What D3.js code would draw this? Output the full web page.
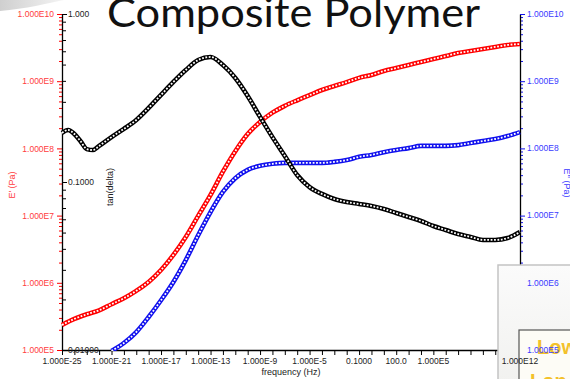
<!DOCTYPE html>
<html>
<head>
<meta charset="utf-8">
<title>Composite Polymer</title>
<script src="https://d3js.org/d3.v7.min.js"></script>
<style>
  body { margin: 0; background: #fff; }
  svg { display: block; font-family: "Liberation Sans", Arial, sans-serif; }
  .tick text { font-size: 8.5px; }
</style>
</head>
<body>
<svg width="570" height="379"></svg>
<script>
// frequency grid (Hz), one point per decade
const freq = [1e-25, 1e-24, 1e-23, 1e-22, 1e-21, 1e-20, 1e-19, 1e-18, 1e-17, 1e-16,
  1e-15, 1e-14, 1e-13, 1e-12, 1e-11, 1e-10, 1e-9, 1e-8, 1e-7, 1e-6, 1e-5, 1e-4,
  1e-3, 1e-2, 1e-1, 1, 10, 100, 1e3, 1e4, 1e5, 1e6, 1e7, 1e8, 1e9, 1e10, 1e11, 1e12];

// E' (Pa)
const storageMod = [2.36e5, 2.9e5, 3.4e5, 3.9e5, 4.8e5, 5.9e5, 7.6e5, 1.03e6, 1.55e6, 2.6e6,
  4.8e6, 9.9e6, 2.03e7, 4.5e7, 9.1e7, 1.64e8, 2.47e8, 3.4e8, 4.3e8, 5.2e8, 6.2e8, 7.4e8,
  8.5e8, 9.7e8, 1.12e9, 1.24e9, 1.42e9, 1.57e9, 1.74e9, 1.93e9, 2.14e9, 2.37e9, 2.63e9,
  2.81e9, 3.01e9, 3.23e9, 3.46e9, 3.58e9];

// E'' (Pa)
const lossMod = [null, null, null, null, 9.7e4, 1.27e5, 1.85e5, 3.1e5, 5.5e5, 1.03e6,
  2.18e6, 5.1e6, 1.13e7, 2.25e7, 3.6e7, 4.8e7, 5.5e7, 5.9e7, 6.1e7, 6.1e7, 6.1e7, 6.1e7,
  6.3e7, 6.7e7, 7.5e7, 8.0e7, 8.8e7, 9.5e7, 1.01e8, 1.09e8, 1.09e8, 1.09e8, 1.12e8,
  1.20e8, 1.29e8, 1.38e8, 1.53e8, 1.75e8];

// tan(delta), finer at the low end
const tanFreq = [1e-25, 3.16e-25, 1e-24, 3.16e-24, 1e-23, 3.16e-23, 1e-22, 1e-21, 1e-20,
  1e-19, 1e-18, 1e-17, 1e-16, 1e-15, 1e-14, 1e-13, 1e-12, 1e-11, 1e-10, 1e-9, 1e-8, 1e-7,
  1e-6, 1e-5, 1e-4, 1e-3, 1e-2, 1e-1, 1, 10, 100, 1e3, 1e4, 1e5, 1e6, 1e7, 1e8, 1e9,
  1e10, 1e11, 1e12];
const tanDelta = [0.196, 0.204, 0.193, 0.175, 0.157, 0.155, 0.164, 0.185, 0.207, 0.234,
  0.276, 0.330, 0.394, 0.464, 0.532, 0.555, 0.497, 0.416, 0.325, 0.244, 0.185, 0.143,
  0.110, 0.0933, 0.0849, 0.0792, 0.0760, 0.0740, 0.0720, 0.0691, 0.0654, 0.0619, 0.0586,
  0.0547, 0.0518, 0.0490, 0.0471, 0.0452, 0.0452, 0.0464, 0.0504];

// tick labels
const xTickVals = [1e-25, 1e-21, 1e-17, 1e-13, 1e-9, 1e-5, 0.1, 100, 1e5, 1e12];
const xTickLabels = ["1.000E-25", "1.000E-21", "1.000E-17", "1.000E-13", "1.000E-9",
  "1.000E-5", "0.1000", "100.0", "1.000E5", "1.000E12"];
const modTickVals = [1e5, 1e6, 1e7, 1e8, 1e9, 1e10];
const modTickLabels = ["1.000E5", "1.000E6", "1.000E7", "1.000E8", "1.000E9", "1.000E10"];
const tanTickVals = [0.01, 0.1, 1];
const tanTickLabels = ["0.01000", "0.1000", "1.000"];

var svg = d3.select("svg"),
    pLeft = 62, pRight = 520, pTop = 14, pBottom = 350;

var x = d3.scaleLog().domain([1e-25, 1e12]).range([pLeft, pRight]);
var yE = d3.scaleLog().domain([1e5, 1e10]).range([pBottom, pTop]);
var yT = d3.scaleLog().domain([0.01, 1]).range([pBottom, pTop]);

var red = "#ff0000", redText = "#ff3c3c", blue = "#1010ee", blueText = "#3a3aff";

function minors(lo, hi) {
  var out = [];
  for (var e = lo; e < hi; e++)
    for (var k = 2; k <= 9; k++) out.push(k * Math.pow(10, e));
  return out;
}
function decades(lo, hi) {
  var out = [];
  for (var e = lo; e <= hi; e++) out.push(Math.pow(10, e));
  return out;
}

// top-left slide decoration
var defs = svg.append("defs");
var gw = defs.append("linearGradient").attr("id", "wave").attr("x1", 0).attr("x2", 1);
gw.append("stop").attr("offset", 0).attr("stop-color", "#cfcfcf");
gw.append("stop").attr("offset", 1).attr("stop-color", "#f4f4f4");
svg.append("path")
  .attr("d", "M0,0 H64 C48,3 26,9 0,11 Z")
  .attr("fill", "url(#wave)");

// title
svg.append("text")
  .attr("x", 107).attr("y", 27)
  .attr("textLength", 373).attr("lengthAdjust", "spacingAndGlyphs")
  .style("font-family", "Lato, 'Open Sans', sans-serif")
  .style("font-size", "41px")
  .attr("fill", "#111")
  .text("Composite Polymer");

// axes
var axes = svg.append("g");

// bottom
var xa = axes.append("g").attr("transform", "translate(0," + pBottom + ")")
  .call(d3.axisBottom(x).tickValues(decades(-25, 12)).tickSize(5).tickSizeOuter(0).tickFormat(""));
xa.selectAll("line, path").attr("stroke", "#000");
xa.select(".domain").attr("stroke-width", 1.3);

// left: E' (red ticks, outside)
var la1 = axes.append("g").attr("transform", "translate(" + pLeft + ",0)")
  .call(d3.axisLeft(yE).tickValues(minors(5, 10)).tickSize(3).tickSizeOuter(0).tickFormat(""));
var la2 = axes.append("g").attr("transform", "translate(" + pLeft + ",0)")
  .call(d3.axisLeft(yE).tickValues(modTickVals).tickSize(5).tickSizeOuter(0).tickPadding(3)
    .tickFormat(function(d, i) { return modTickLabels[i]; }));
la1.selectAll(".tick line").attr("stroke", red);
la2.selectAll(".tick line").attr("stroke", red);
la2.selectAll(".tick text").attr("fill", redText);
la1.select(".domain").remove();
la2.select(".domain").remove();

// left: tan(delta) (black ticks, inside)
var ta1 = axes.append("g").attr("transform", "translate(" + pLeft + ",0)")
  .call(d3.axisRight(yT).tickValues(minors(-2, 0)).tickSize(4).tickSizeOuter(0).tickFormat(""));
var ta2 = axes.append("g").attr("transform", "translate(" + pLeft + ",0)")
  .call(d3.axisRight(yT).tickValues(tanTickVals).tickSize(5).tickSizeOuter(0).tickPadding(1)
    .tickFormat(function(d, i) { return tanTickLabels[i]; }));
ta1.select(".domain").remove();
ta2.select(".domain").attr("stroke", "#000").attr("stroke-width", 1.3);
ta1.selectAll("line").attr("stroke", "#000");
ta2.selectAll("line").attr("stroke", "#000");
ta2.selectAll(".tick text").attr("fill", "#222");

// right: E'' (blue)
var ra1 = axes.append("g").attr("transform", "translate(" + pRight + ",0)")
  .call(d3.axisRight(yE).tickValues(minors(5, 10)).tickSize(3).tickSizeOuter(0).tickFormat(""));
var ra2 = axes.append("g").attr("transform", "translate(" + pRight + ",0)")
  .call(d3.axisRight(yE).tickValues(modTickVals).tickSize(5).tickSizeOuter(0).tickFormat(""));
ra1.select(".domain").remove();
ra2.select(".domain").attr("stroke", "#000").attr("stroke-width", 1.3);
ra1.selectAll("line").attr("stroke", blue);
ra2.selectAll("line").attr("stroke", blue);

// axis titles
svg.append("text")
  .attr("transform", "translate(15,185) rotate(-90)")
  .attr("text-anchor", "middle").attr("fill", redText)
  .style("font-size", "9px").text("E' (Pa)");
svg.append("text")
  .attr("transform", "translate(113,187) rotate(-90)")
  .attr("text-anchor", "middle").attr("fill", "#222")
  .style("font-size", "9px").text("tan(delta)");
svg.append("text")
  .attr("transform", "translate(564,183) rotate(90)")
  .attr("text-anchor", "middle").attr("fill", blueText)
  .style("font-size", "9px").text("E'' (Pa)");
svg.append("text")
  .attr("x", 291).attr("y", 375)
  .attr("text-anchor", "middle").attr("fill", "#222")
  .style("font-size", "9px").text("frequency (Hz)");

// curves: open-circle markers packed densely, drawn as a ring chain
defs.append("clipPath").attr("id", "plot")
  .append("rect").attr("x", pLeft - 3).attr("y", pTop - 3)
  .attr("width", pRight - pLeft + 6).attr("height", pBottom - pTop + 4);
var plot = svg.append("g").attr("clip-path", "url(#plot)");

function drawSeries(xs, ys, yScale, color) {
  var pts = xs.map(function(f, i) { return [f, ys[i]]; });
  var line = d3.line()
    .defined(function(d) { return d[1] != null; })
    .x(function(d) { return x(d[0]); })
    .y(function(d) { return yScale(d[1]); })
    .curve(d3.curveMonotoneX);
  plot.append("path").datum(pts).attr("d", line)
    .attr("fill", "none").attr("stroke", color).attr("stroke-width", 4.6);
  plot.append("path").datum(pts).attr("d", line)
    .attr("fill", "none").attr("stroke", "#fff").attr("stroke-width", 1.8)
    .attr("stroke-dasharray", "1.8 1.6");
}
drawSeries(freq, storageMod, yE, red);
drawSeries(freq, lossMod, yE, blue);
drawSeries(tanFreq, tanDelta, yT, "#000");

// overlapping slide picture (bottom right)
var og = defs.append("linearGradient").attr("id", "ov").attr("x1", 0).attr("y1", 0).attr("x2", 0).attr("y2", 1);
og.append("stop").attr("offset", 0).attr("stop-color", "#fbfbfb");
og.append("stop").attr("offset", 1).attr("stop-color", "#f1f1ef");
var ov = svg.append("g");
ov.append("rect").attr("x", 498).attr("y", 265).attr("width", 80).attr("height", 120)
  .attr("fill", "url(#ov)").attr("stroke", "#c4c4c4").attr("stroke-width", 1.5);
ov.append("rect").attr("x", 519).attr("y", 330).attr("width", 60).attr("height", 60)
  .attr("fill", "#fdfcf6").attr("stroke", "#555").attr("stroke-width", 1.2);
ov.append("text").attr("x", 537).attr("y", 354)
  .style("font-size", "20px").style("font-weight", "bold")
  .attr("fill", "#f3c12a").text("Low");
ov.append("text").attr("x", 530).attr("y", 388)
  .style("font-size", "20px").style("font-weight", "bold")
  .attr("fill", "#f3c12a").text("Lon");

// labels drawn over the picture
var lab = svg.append("g").style("font-size", "8.5px");
lab.selectAll(".xl").data(xTickVals).enter().append("text")
  .attr("x", function(d) { return x(d); }).attr("y", 364)
  .attr("text-anchor", "middle").attr("fill", "#222")
  .text(function(d, i) { return xTickLabels[i]; });
lab.selectAll(".rl").data(modTickVals).enter().append("text")
  .attr("x", pRight + 7).attr("y", function(d) { return yE(d); })
  .attr("dy", "0.32em").attr("fill", blueText)
  .text(function(d, i) { return modTickLabels[i]; });
</script>
</body>
</html>
